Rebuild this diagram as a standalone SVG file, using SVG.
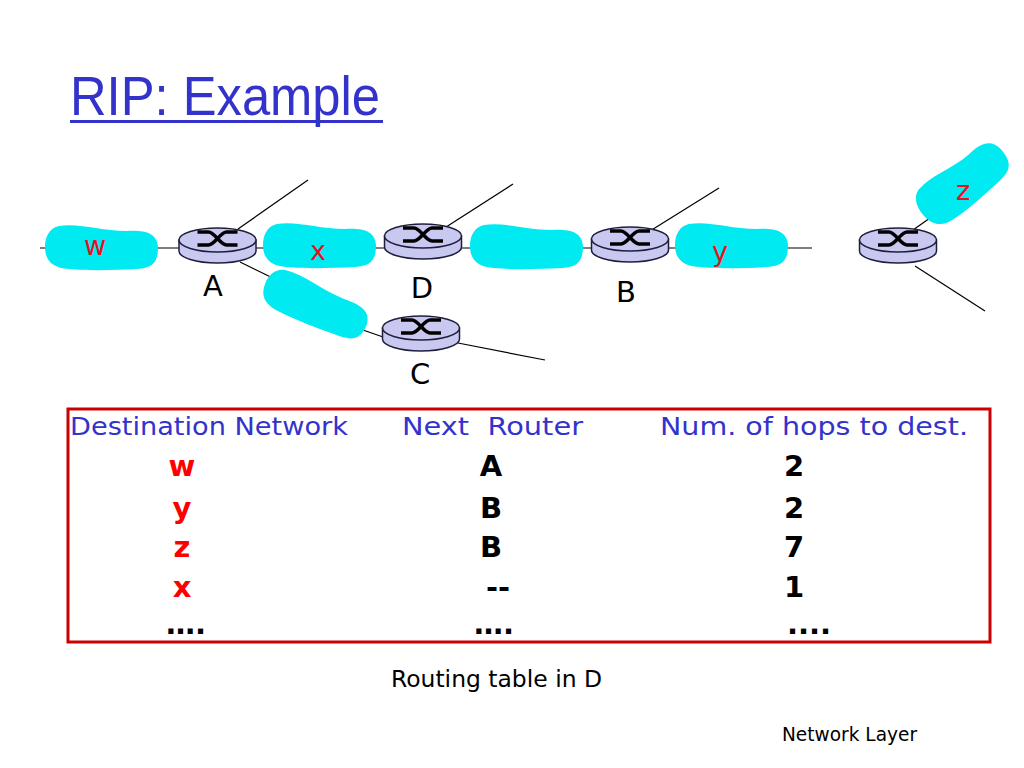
<svg xmlns="http://www.w3.org/2000/svg" xmlns:xlink="http://www.w3.org/1999/xlink" width="1024" height="768" viewBox="0 0 1024 768">
<style>
text{font-family:"DejaVu Sans","Liberation Sans",sans-serif}
.ttl{font-family:"Liberation Sans",Arial,sans-serif;font-size:55px;fill:#3333CC}
.ln{stroke:#000;stroke-width:1.2;fill:none}
.cloud{fill:#00EAF2}
.rbody{fill:#C8C8F0;stroke:#1E1E3C;stroke-width:1.5}
.glyph{fill:none;stroke:#000;stroke-width:3.5}
.lbl{font-size:29px;fill:#000;text-anchor:middle}
.net{font-size:27px;fill:#E8101A;text-anchor:middle}
.hdr{font-size:25px;fill:#3333CC}
.val{font-size:29px;font-weight:bold;text-anchor:middle;fill:#000}
.red{fill:#F00}
</style>
<defs>
<path id="blob" d="M14,1 C35,-2 55,6 82,6 C100,5 112,8 113,22 C113,37 108,43 92,44 C70,45 45,46 24,44 C8,43 0,36 0,22 C0,11 5,3 14,1 Z"/>
<g id="router">
<path d="M-38.5,0 V11 A38.5,12 0 0 0 38.5,11 V0 Z" class="rbody"/>
<ellipse cx="0" cy="0" rx="38.5" ry="12" class="rbody"/>
<path class="glyph" d="M-20,-8 H-9 C-3,-8 3,5 9,5 H20 M-20,5 H-9 C-3,5 3,-8 9,-8 H20"/>
</g>
</defs>
<rect width="1024" height="768" fill="#fff"/>

<g id="title">
<text class="ttl" x="70" y="115" textLength="310" lengthAdjust="spacingAndGlyphs">RIP: Example</text>
<rect x="70" y="120" width="313" height="3" fill="#3333CC"/>
</g>

<g id="connectors">
<path class="ln" d="M40,248 H812"/>
<path class="ln" d="M238,229 L308,180"/>
<path class="ln" d="M240,262 L285,284"/>
<path class="ln" d="M360,329 L386,338"/>
<path class="ln" d="M458,343 L545,360"/>
<path class="ln" d="M443,229 L513,184"/>
<path class="ln" d="M650,231 L719,188"/>
<path class="ln" d="M913,230 L930,218"/>
<path class="ln" d="M915,266 L985,311"/>
</g>

<g id="net-w"><use xlink:href="#blob" class="cloud" transform="translate(45,225)"/><text class="net" x="95" y="255">w</text></g>
<g id="net-x"><use xlink:href="#blob" class="cloud" transform="translate(263,223)"/><text class="net" x="318" y="260">x</text></g>
<g id="net-db"><use xlink:href="#blob" class="cloud" transform="translate(470,224)"/></g>
<g id="net-y"><use xlink:href="#blob" class="cloud" transform="translate(675,223)"/><text class="net" x="720" y="261">y</text></g>
<g id="net-ac"><use xlink:href="#blob" class="cloud" transform="translate(316,304) rotate(22) scale(0.97,0.95) translate(-56.5,-22)"/></g>
<g id="net-z"><use xlink:href="#blob" class="cloud" transform="translate(962,182) rotate(-40) scale(0.9,1.05) translate(-56.5,-22)"/><text class="net" x="963" y="200">z</text></g>

<g id="router-A"><use xlink:href="#router" transform="translate(217.5,240)"/><text class="lbl" x="213" y="296">A</text></g>
<g id="router-D"><use xlink:href="#router" transform="translate(423,236)"/><text class="lbl" x="422" y="298">D</text></g>
<g id="router-B"><use xlink:href="#router" transform="translate(630,239)"/><text class="lbl" x="626" y="302">B</text></g>
<g id="router-C"><use xlink:href="#router" transform="translate(421,328)"/><text class="lbl" x="420" y="384">C</text></g>
<g id="router-R"><use xlink:href="#router" transform="translate(898,240)"/></g>

<g id="table">
<rect x="68" y="409" width="922" height="233" fill="none" stroke="#CC0000" stroke-width="3"/>
<text class="hdr" x="70" y="435" textLength="278" lengthAdjust="spacingAndGlyphs">Destination Network</text>
<text class="hdr" x="402" y="435" textLength="181" lengthAdjust="spacingAndGlyphs" xml:space="preserve">Next  Router</text>
<text class="hdr" x="660" y="435" textLength="308" lengthAdjust="spacingAndGlyphs">Num. of hops to dest.</text>

<text class="val red" x="182" y="476">w</text>
<text class="val red" x="182" y="518">y</text>
<text class="val red" x="182" y="557">z</text>
<text class="val red" x="182" y="597">x</text>
<text class="val" x="186" y="634" font-size="22">….</text>

<text class="val" x="491" y="476">A</text>
<text class="val" x="491" y="518">B</text>
<text class="val" x="491" y="557">B</text>
<text class="val" x="498" y="597">--</text>
<text class="val" x="494" y="634" font-size="22">….</text>

<text class="val" x="794" y="476">2</text>
<text class="val" x="794" y="518">2</text>
<text class="val" x="794" y="557">7</text>
<text class="val" x="794" y="597">1</text>
<text class="val" x="809" y="634" font-size="22">....</text>
</g>

<text x="391" y="687" font-size="23" fill="#000" textLength="211" lengthAdjust="spacingAndGlyphs">Routing table in D</text>
<text x="782" y="741" font-size="20" fill="#000" textLength="135" lengthAdjust="spacingAndGlyphs">Network Layer</text>
</svg>
